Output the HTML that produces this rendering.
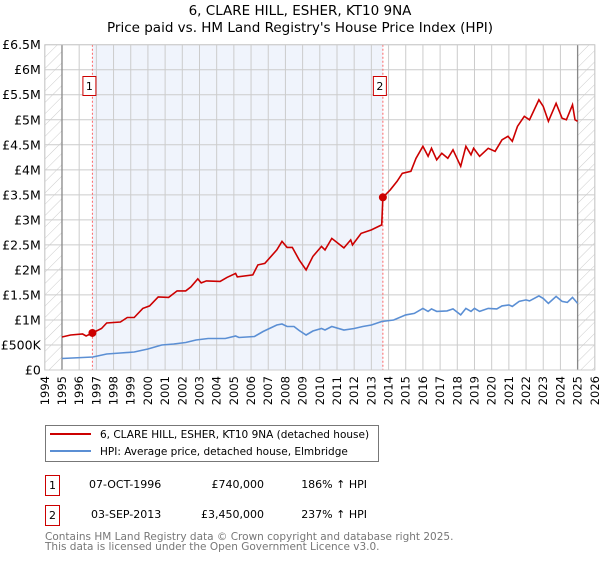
<!DOCTYPE html>
<html><head><meta charset="utf-8"><style>
body{margin:0;background:#fff;width:600px;height:560px;overflow:hidden;font-family:"DejaVu Sans","Liberation Sans",sans-serif}
text{font-family:"DejaVu Sans","Liberation Sans",sans-serif}
</style></head><body>
<svg id="chart" width="600" height="560" xmlns="http://www.w3.org/2000/svg">
<defs><pattern id="hatch" width="8" height="8" patternUnits="userSpaceOnUse" patternTransform="rotate(45)"><line x1="0" y1="0" x2="0" y2="8" stroke="#ccc" stroke-width="1"/></pattern></defs>
<text x="300" y="15" text-anchor="middle" font-size="13.5" fill="#000">6, CLARE HILL, ESHER, KT10 9NA</text>
<text x="300" y="32" text-anchor="middle" font-size="13.5" fill="#000">Price paid vs. HM Land Registry's House Price Index (HPI)</text>
<g id="grid"></g>
<g id="marks"></g>
<g id="axes"></g>
<rect x="45.5" y="425.5" width="333" height="36" fill="#fff" stroke="#777"/>
<line x1="50" y1="434" x2="91" y2="434" stroke="#cc0000" stroke-width="2"/>
<text x="100" y="438" font-size="10.5">6, CLARE HILL, ESHER, KT10 9NA (detached house)</text>
<line x1="50" y1="451" x2="91" y2="451" stroke="#5b8fd4" stroke-width="2"/>
<text x="100" y="455" font-size="10.5">HPI: Average price, detached house, Elmbridge</text>
<g font-size="11">
<rect x="45.5" y="475.5" width="14" height="20" fill="#fff" stroke="#cc0000"/><text x="52.5" y="489" text-anchor="middle">1</text>
<text x="89" y="488">07-OCT-1996</text><text x="264" y="488" text-anchor="end">£740,000</text><text x="367" y="488" text-anchor="end">186% ↑ HPI</text></g>
<g font-size="11">
<rect x="45.5" y="505.5" width="14" height="20" fill="#fff" stroke="#cc0000"/><text x="52.5" y="519" text-anchor="middle">2</text>
<text x="91" y="518">03-SEP-2013</text><text x="264" y="518" text-anchor="end">£3,450,000</text><text x="367" y="518" text-anchor="end">237% ↑ HPI</text></g>
<text x="45" y="540" font-size="10.5" fill="#777">Contains HM Land Registry data © Crown copyright and database right 2025.</text>
<text x="45" y="550" font-size="10.5" fill="#777">This data is licensed under the Open Government Licence v3.0.</text>
</svg>
<script>
const redYears=[1995,1995.5,1996.2,1996.4,1996.77,1997.3,1997.6,1998.4,1998.8,1999.2,1999.7,2000.1,2000.6,2001.2,2001.7,2002.2,2002.5,2002.9,2003.1,2003.4,2004.2,2004.6,2005.1,2005.2,2006.1,2006.4,2006.8,2007.5,2007.8,2008.1,2008.4,2008.8,2009.2,2009.6,2010.1,2010.3,2010.7,2011.4,2011.8,2011.9,2012.4,2013.0,2013.6,2013.67,2014.1,2014.5,2014.8,2015.3,2015.6,2016.0,2016.3,2016.5,2016.8,2017.1,2017.45,2017.75,2018.2,2018.5,2018.8,2018.95,2019.3,2019.8,2020.2,2020.6,2020.95,2021.2,2021.5,2021.9,2022.2,2022.75,2023.0,2023.3,2023.75,2024.1,2024.35,2024.7,2024.85,2025.0];
const redValues=[0.66,0.70,0.72,0.68,0.74,0.83,0.94,0.96,1.05,1.05,1.23,1.28,1.46,1.45,1.58,1.58,1.66,1.82,1.74,1.78,1.77,1.85,1.93,1.86,1.90,2.10,2.13,2.40,2.57,2.45,2.45,2.20,2.00,2.27,2.47,2.40,2.63,2.44,2.60,2.50,2.73,2.80,2.90,3.45,3.60,3.77,3.93,3.97,4.23,4.47,4.27,4.43,4.20,4.33,4.23,4.40,4.07,4.47,4.30,4.43,4.27,4.43,4.37,4.60,4.67,4.57,4.87,5.07,5.00,5.40,5.27,4.97,5.33,5.03,5.00,5.30,5.00,4.97];
const hpiYears=[1995,1996.8,1997.6,1998.4,1999.2,2000,2000.8,2001.5,2002.2,2002.8,2003.5,2004.5,2005.1,2005.3,2006.2,2006.7,2007.5,2007.8,2008.1,2008.5,2008.8,2009.2,2009.6,2010.1,2010.3,2010.7,2011.4,2012.0,2012.5,2013.0,2013.6,2014.3,2015.0,2015.5,2016.0,2016.3,2016.5,2016.8,2017.4,2017.75,2018.2,2018.5,2018.8,2019.0,2019.3,2019.8,2020.3,2020.6,2021.0,2021.2,2021.6,2022.0,2022.2,2022.75,2023.0,2023.3,2023.75,2024.1,2024.4,2024.7,2025.0];
const hpiValues=[0.23,0.26,0.32,0.34,0.36,0.42,0.50,0.52,0.55,0.60,0.63,0.63,0.68,0.65,0.67,0.77,0.90,0.92,0.87,0.87,0.79,0.70,0.78,0.83,0.80,0.87,0.80,0.83,0.87,0.90,0.97,1.00,1.10,1.13,1.23,1.17,1.22,1.17,1.18,1.22,1.10,1.23,1.17,1.23,1.17,1.23,1.22,1.28,1.30,1.27,1.37,1.40,1.38,1.48,1.43,1.33,1.47,1.37,1.35,1.45,1.33];
const saleYears=[1996.77,2013.67];
const saleValues=[0.74,3.45];
const saleLabels=["1","2"];
const yTicks=[0,0.5,1,1.5,2,2.5,3,3.5,4,4.5,5,5.5,6,6.5];
const yTickLabels=["£0","£500K","£1M","£1.5M","£2M","£2.5M","£3M","£3.5M","£4M","£4.5M","£5M","£5.5M","£6M","£6.5M"];
const xTicks=[1994,1995,1996,1997,1998,1999,2000,2001,2002,2003,2004,2005,2006,2007,2008,2009,2010,2011,2012,2013,2014,2015,2016,2017,2018,2019,2020,2021,2022,2023,2024,2025,2026];
const X0=44.8,X1=594.8,Y0=370,Y1=44.7;
const xs=y=>X0+(y-1994)/(2026-1994)*(X1-X0);
const ys=v=>Y0-(v/6.5)*(Y0-Y1);
const NS="http://www.w3.org/2000/svg";
function mk(parent,tag,attrs){const e=document.createElementNS(NS,tag);for(const k in attrs)e.setAttribute(k,attrs[k]);parent.appendChild(e);return e;}
const grid=document.getElementById('grid'),marks=document.getElementById('marks'),axes=document.getElementById('axes');
const shade=mk(grid,'rect',{x:xs(saleYears[0]),y:Y1,width:xs(saleYears[1])-xs(saleYears[0]),height:Y0-Y1,fill:'#f0f4fc'});


const h1=mk(grid,'rect',{x:X0,y:Y1,width:xs(1995)-X0,height:Y0-Y1,fill:'url(#hatch)'});


const h2=mk(grid,'rect',{x:xs(2025),y:Y1,width:X1-xs(2025),height:Y0-Y1,fill:'url(#hatch)'});


xTicks.forEach(t=>{const l=mk(grid,'line',{x1:xs(t),x2:xs(t),y1:Y1,y2:Y0,stroke:'#ccc','stroke-width':1});


const tx=mk(axes,'text',{x:0,y:0,transform:`translate(${xs(t)+4},${Y0+6}) rotate(-90)`,'text-anchor':'end','font-size':11.5});
tx.textContent=t;

});
yTicks.forEach((t,i)=>{const l=mk(grid,'line',{x1:X0,x2:X1,y1:ys(t),y2:ys(t),stroke:'#ccc','stroke-width':1});


const tx=mk(axes,'text',{x:X0-4,y:ys(t)+4.5,'text-anchor':'end','font-size':12.5});
tx.textContent=yTickLabels[i];

});
[1995,2025].forEach(t=>{const l=mk(grid,'line',{x1:xs(t),x2:xs(t),y1:Y1,y2:Y0,stroke:'#888','stroke-width':1.3});

});
saleYears.forEach((yr,i)=>{const l=mk(grid,'line',{x1:xs(yr),x2:xs(yr),y1:Y1,y2:Y0,stroke:'#f66','stroke-width':1,'stroke-dasharray':'2,2'});


const b=mk(marks,'rect',{x:xs(yr)-9.5,y:76.5,width:13,height:19,fill:'#fff',stroke:'#cc0000'});


const t=mk(marks,'text',{x:xs(yr)-3,y:90,'text-anchor':'middle','font-size':11});
t.textContent=saleLabels[i];

});
function pts(a,b){return a.map((y,i)=>xs(y).toFixed(1)+','+ys(b[i]).toFixed(1)).join(' ');}
const hp=mk(marks,'polyline',{points:pts(hpiYears,hpiValues),fill:'none',stroke:'#5b8fd4','stroke-width':1.6});


const rp=mk(marks,'polyline',{points:pts(redYears,redValues),fill:'none',stroke:'#cc0000','stroke-width':1.6});


saleYears.forEach((yr,i)=>{const c=mk(marks,'circle',{cx:xs(yr),cy:ys(saleValues[i]),r:4,fill:'#cc0000'});

});
const fr=mk(axes,'rect',{x:X0,y:Y1,width:X1-X0,height:Y0-Y1,fill:'none',stroke:'#ccc'});


</script>
</body></html>
